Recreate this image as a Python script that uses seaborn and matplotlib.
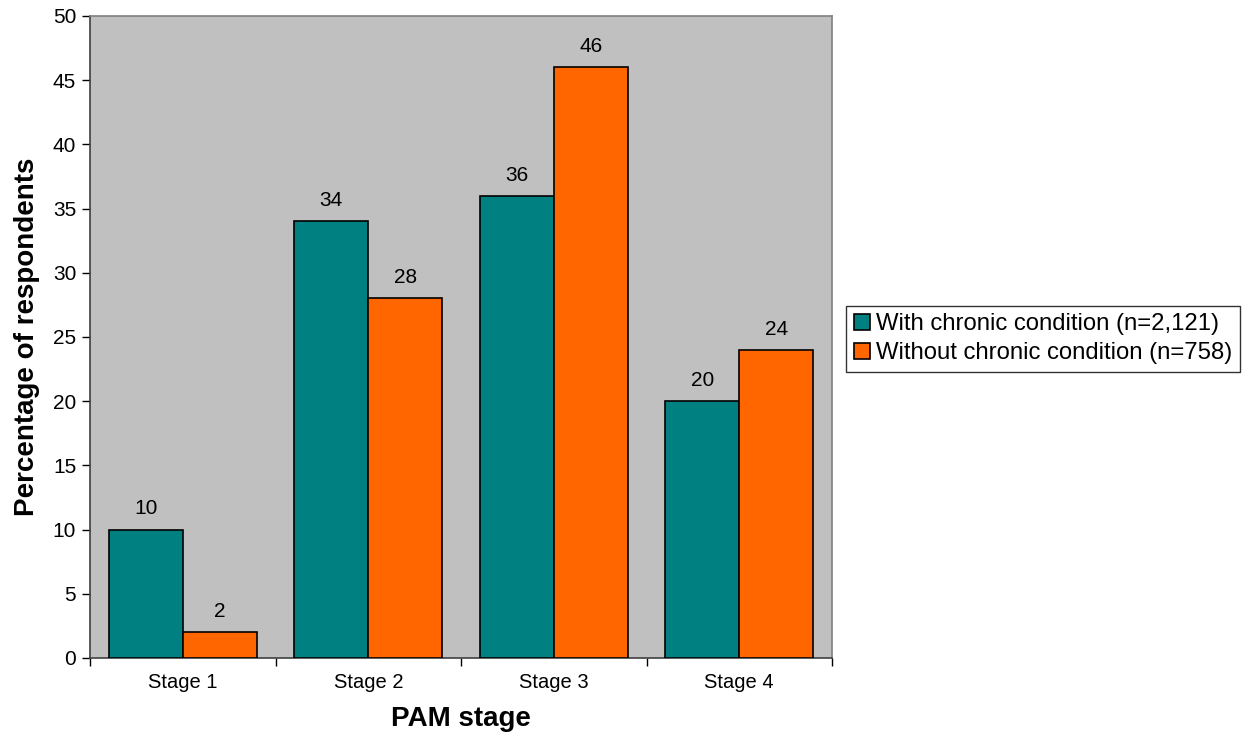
import matplotlib
matplotlib.use("Agg")
import matplotlib.pyplot as plt
import seaborn as sns
import pandas as pd

stages = ["Stage 1", "Stage 2", "Stage 3", "Stage 4"]
groups = ["With chronic condition (n=2,121)", "Without chronic condition (n=758)"]
with_chronic = [10, 34, 36, 20]
without_chronic = [2, 28, 46, 24]
yticks = [0, 5, 10, 15, 20, 25, 30, 35, 40, 45, 50]

df = pd.DataFrame({
    "stage": stages * 2,
    "group": [groups[0]] * 4 + [groups[1]] * 4,
    "pct": with_chronic + without_chronic,
})

sns.set_style("white")
plt.rcParams["font.family"] = ["Liberation Sans", "DejaVu Sans"]
plt.rcParams["text.color"] = "black"
plt.rcParams["axes.labelcolor"] = "black"
plt.rcParams["xtick.color"] = "black"
plt.rcParams["ytick.color"] = "black"

fig = plt.figure(figsize=(12.54, 7.46), dpi=100)
ax = fig.add_axes([0.0718, 0.118, 0.5917, 0.8606])
ax.set_facecolor("#C0C0C0")

sns.barplot(data=df, x="stage", y="pct", hue="group", order=stages,
            hue_order=groups, palette=["#008080", "#FF6600"],
            width=0.8, gap=0, edgecolor="black", linewidth=1.2,
            saturation=1, errorbar=None, ax=ax, zorder=3)

for container in ax.containers:
    ax.bar_label(container, fmt="%d", padding=8, fontsize=15, color="black")

ax.set_xlim(-0.5, 3.5)
ax.set_ylim(0, 50)
ax.set_yticks(yticks)
ax.set_yticklabels([str(t) for t in yticks], fontsize=15)
ax.tick_params(axis="x", length=0, labelsize=14.5, pad=11)
ax.tick_params(axis="y", direction="out", length=6, width=1, color="black", left=True, pad=4)

# outward ticks on category boundaries
ax.set_xticks([-0.5, 0.5, 1.5, 2.5, 3.5], minor=True)
ax.tick_params(axis="x", which="minor", direction="out", length=6, width=1, color="black", bottom=True)

for side in ["top", "right"]:
    ax.spines[side].set_color("#808080")
    ax.spines[side].set_linewidth(1.2)
for side in ["left", "bottom"]:
    ax.spines[side].set_color("#404040")
    ax.spines[side].set_linewidth(1.2)

ax.set_xlabel("PAM stage", fontsize=20, fontweight="bold", labelpad=10)
ax.set_ylabel("Percentage of respondents", fontsize=20, fontweight="bold", labelpad=9)

leg = ax.legend(loc="center left", bbox_to_anchor=(1.019, 0.497), fontsize=17.2,
                frameon=True, fancybox=False, edgecolor="black",
                handlelength=0.7, handleheight=0.7, handletextpad=0.25,
                borderpad=0.32, labelspacing=0.3, borderaxespad=0)
leg.get_frame().set_linewidth(1)

fig.savefig("out.png", dpi=100, facecolor="white")
